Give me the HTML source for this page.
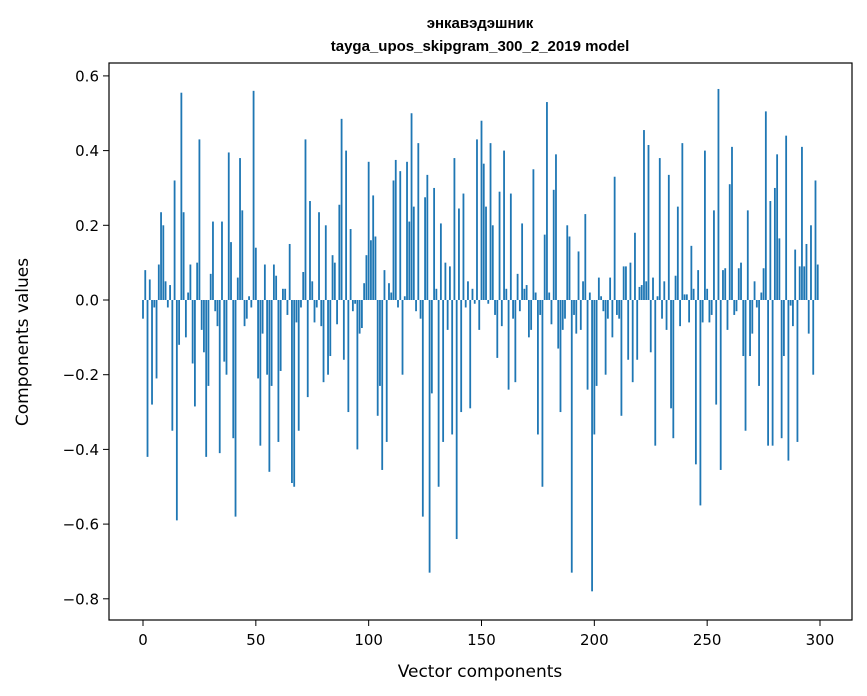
<!DOCTYPE html>
<html><head><meta charset="utf-8"><style>
body{margin:0;background:#fff;}
svg{display:block;font-family:"DejaVu Sans","Liberation Sans",sans-serif;}
</style></head><body>
<svg id="chart" width="867" height="696">
<text x="480" y="28" text-anchor="middle" font-size="15" font-weight="bold" font-family="Liberation Sans, sans-serif">энкавэдэшник</text>
<text x="480" y="51" text-anchor="middle" font-size="15" font-weight="bold" font-family="Liberation Sans, sans-serif">tayga_upos_skipgram_300_2_2019 model</text>
<text x="480" y="677" text-anchor="middle" font-size="17">Vector components</text>
<text transform="translate(28,342) rotate(-90)" text-anchor="middle" font-size="17">Components values</text>
<g id="bars"></g>
<g id="axes"></g>
</svg>
<script>
const values = [-0.05,0.08,-0.42,0.055,-0.28,-0.02,-0.21,0.095,0.235,0.2,0.05,-0.02,0.04,-0.35,0.32,-0.59,-0.12,0.555,0.235,-0.1,0.02,0.095,-0.17,-0.285,0.1,0.43,-0.08,-0.14,-0.42,-0.23,0.07,0.21,-0.03,-0.07,-0.41,0.21,-0.165,-0.2,0.395,0.155,-0.37,-0.58,0.06,0.38,0.24,-0.07,-0.05,0.01,-0.02,0.56,0.14,-0.21,-0.39,
-0.09,0.095,-0.2,-0.46,-0.23,0.095,0.065,-0.38,-0.19,0.03,0.03,-0.04,0.15,-0.49,-0.5,-0.06,-0.35,-0.02,0.075,0.43,-0.26,0.265,0.05,-0.06,-0.02,0.235,-0.07,-0.22,0.2,-0.2,-0.15,0.12,0.1,-0.065,0.255,0.485,-0.16,0.4,-0.3,0.19,-0.03,-0.01,-0.4,-0.09,-0.075,0.045,0.12,0.37,0.16,0.28,0.17,-0.31,-0.23,
-0.455,0.08,-0.38,0.045,0.02,0.32,0.375,-0.02,0.345,-0.2,0.01,0.37,0.21,0.5,0.25,-0.03,0.42,-0.05,-0.58,0.275,0.335,-0.73,-0.25,0.3,0.03,-0.5,0.205,-0.38,0.1,-0.08,0.09,-0.36,0.38,-0.64,0.245,-0.3,0.285,-0.02,0.05,-0.29,0.03,-0.01,0.43,-0.08,0.48,0.365,0.25,-0.01,0.42,0.2,-0.04,-0.155,0.29,
-0.07,0.4,0.03,-0.24,0.285,-0.05,-0.22,0.07,-0.03,0.205,0.03,0.04,-0.1,-0.08,0.35,0.02,-0.36,-0.04,-0.5,0.175,0.53,0.02,-0.065,0.295,0.39,-0.13,-0.3,-0.08,-0.05,0.2,0.17,-0.73,-0.04,-0.09,0.13,-0.08,0.05,0.23,-0.24,0.02,-0.78,-0.36,-0.23,0.06,0.01,-0.03,-0.2,-0.05,0.06,-0.1,0.33,-0.04,-0.05,-0.31,0.09,
0.09,-0.16,0.1,-0.22,0.18,-0.16,0.035,0.04,0.455,0.05,0.415,-0.14,0.06,-0.39,0.01,0.38,-0.05,0.05,-0.08,0.335,-0.29,-0.37,0.065,0.25,-0.07,0.42,0.015,0.015,-0.06,0.145,0.03,-0.44,0.08,-0.55,-0.06,0.4,0.03,-0.06,-0.04,0.24,-0.28,0.565,-0.455,0.08,0.085,-0.08,0.31,0.41,-0.04,-0.03,0.085,0.1,-0.15,-0.35,
0.24,-0.15,-0.09,0.05,-0.02,-0.23,0.02,0.085,0.505,-0.39,0.265,-0.39,0.3,0.39,0.165,-0.37,-0.15,0.44,-0.43,-0.015,-0.07,0.135,-0.38,0.09,0.41,0.09,0.15,-0.09,0.2,-0.2,0.32,0.095];
const xTicks = [0,50,100,150,200,250,300];
const yTicks = [0.6,0.4,0.2,0.0,-0.2,-0.4,-0.6,-0.8];
const yTickLabels = ["0.6","0.4","0.2","0.0","\u22120.2","\u22120.4","\u22120.6","\u22120.8"];
const NS="http://www.w3.org/2000/svg";
const L=109,R=852,T=63,B=620;
const xs=v=>143+v*(820-143)/300;
const ys=v=>300-v*373.5;
const bars=document.getElementById('bars');
const bw=(820-143)/300*0.8;
values.forEach((v,i)=>{
  const r=document.createElementNS(NS,'rect');
  r.setAttribute('x',xs(i)-bw/2);
  r.setAttribute('y',Math.min(ys(v),ys(0)));
  r.setAttribute('width',bw);
  r.setAttribute('height',Math.abs(ys(v)-ys(0)));
  r.setAttribute('fill','#1f77b4');
  
  
  bars.appendChild(r);
});
const ax=document.getElementById('axes');
const fr=document.createElementNS(NS,'rect');
fr.setAttribute('x',L);fr.setAttribute('y',T);fr.setAttribute('width',R-L);fr.setAttribute('height',B-T);
fr.setAttribute('fill','none');fr.setAttribute('stroke','#000');fr.setAttribute('stroke-width','1.2');


ax.appendChild(fr);
xTicks.forEach(t=>{
  const l=document.createElementNS(NS,'line');
  l.setAttribute('x1',xs(t));l.setAttribute('x2',xs(t));l.setAttribute('y1',B);l.setAttribute('y2',B+6);l.setAttribute('stroke','#000');
  
  
  ax.appendChild(l);
  const tx=document.createElementNS(NS,'text');
  tx.setAttribute('x',xs(t));tx.setAttribute('y',B+25);tx.setAttribute('text-anchor','middle');tx.setAttribute('font-size','15');
  tx.textContent=t;
  
  
  ax.appendChild(tx);
});
yTicks.forEach((t,i)=>{
  const l=document.createElementNS(NS,'line');
  l.setAttribute('x1',L-6);l.setAttribute('x2',L);l.setAttribute('y1',ys(t));l.setAttribute('y2',ys(t));l.setAttribute('stroke','#000');
  
  
  ax.appendChild(l);
  const tx=document.createElementNS(NS,'text');
  tx.setAttribute('x',L-10);tx.setAttribute('y',ys(t)+5.5);tx.setAttribute('text-anchor','end');tx.setAttribute('font-size','15');
  tx.textContent=yTickLabels[i];
  
  
  ax.appendChild(tx);
});
</script>
</body></html>
